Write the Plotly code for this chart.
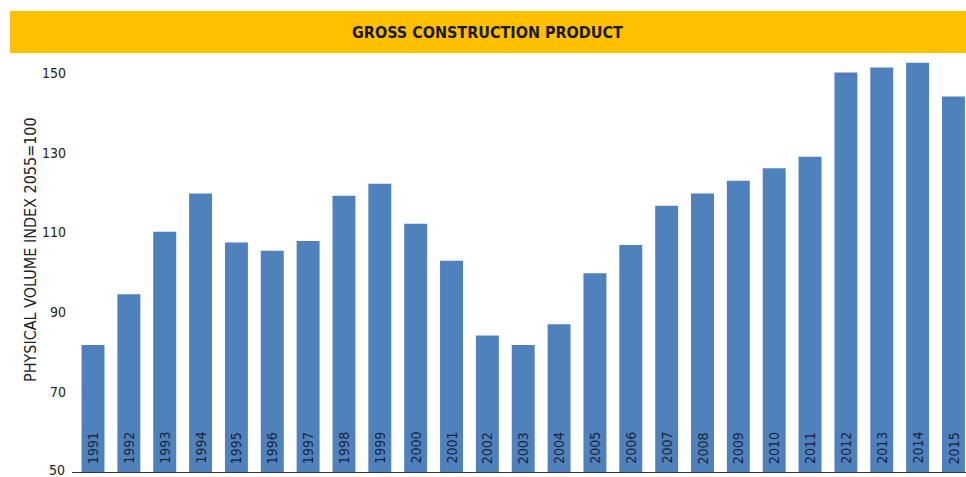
import plotly.graph_objects as go

years = [str(y) for y in range(1991, 2016)]
values = [81.8, 94.5, 110.2, 119.8, 107.5, 105.4, 107.9, 119.2, 122.2, 112.2,
          102.9, 84.2, 81.8, 87.0, 99.8, 106.9, 116.7, 119.8, 123.0, 126.1,
          129.0, 150.1, 151.4, 152.6, 144.1]
y_ticks = [50, 70, 90, 110, 130, 150]
title_text = "GROSS CONSTRUCTION PRODUCT"
y_title = "PHYSICAL VOLUME INDEX 2055=100"

FONT = "DejaVu Sans Condensed, Roboto, sans-serif"

fig = go.Figure(go.Bar(
    x=years, y=values,
    marker=dict(color="#4f81bd", line=dict(width=0)),
    width=0.64, hoverinfo="x+y",
    text=years, textposition="none",
))

W, H = 966, 477
L, R, T, B = 72, 0, 60, 5
pw, ph = W - L - R, H - T - B

def px(x):
    return (x - L) / pw

def py(y):
    return (H - B - y) / ph

annotations = [
    dict(text="<b>" + title_text + "</b>", xref="paper", yref="paper",
         x=px(487), y=py(33), showarrow=False,
         font=dict(family=FONT, size=16, color="#1a1a1a"),
         xanchor="center", yanchor="middle"),
    dict(text=y_title, xref="paper", yref="paper",
         x=px(30), y=py(250), showarrow=False, textangle=-90,
         font=dict(family=FONT, size=16, color="#222222"),
         xanchor="center", yanchor="middle"),
    # lowest y tick label (plotly drops it at the very edge)
    dict(text=str(y_ticks[0]), xref="paper", yref="paper",
         x=px(67), y=0, yshift=2, showarrow=False, xanchor="right",
         yanchor="middle",
         font=dict(family=FONT, size=14, color="#222222")),
]
for i, yr in enumerate(years):
    annotations.append(dict(
        text=yr, x=i, y=0.005, xref="x", yref="paper",
        showarrow=False, textangle=-90, xanchor="center", yanchor="bottom",
        yshift=4, font=dict(family=FONT, size=14, color="#17243a")))

fig.update_layout(
    width=W, height=H,
    margin=dict(l=L, r=R, t=T, b=B),
    paper_bgcolor="white", plot_bgcolor="white",
    showlegend=False,
    bargap=0.36,
    font=dict(family=FONT, color="#222222"),
    xaxis=dict(type="category", range=[-0.586, 24.35], showticklabels=False,
               ticks="", showgrid=False, showline=True, linecolor="#333333",
               linewidth=1, zeroline=False),
    yaxis=dict(range=[49.95, 153.26], tickvals=y_ticks[1:], showgrid=False,
               zeroline=False, showline=False, ticks="",
               ticklabelstandoff=5,
               tickfont=dict(family=FONT, size=14, color="#222222")),
    shapes=[dict(type="rect", xref="paper", yref="paper",
                 x0=px(10), x1=px(966), y0=py(53), y1=py(11),
                 fillcolor="#ffc000", line=dict(width=0), layer="below")],
    annotations=annotations,
)

fig.write_html("out.html", config={"displayModeBar": False},
               post_script="document.body.style.margin='0';document.body.style.padding='0';")
